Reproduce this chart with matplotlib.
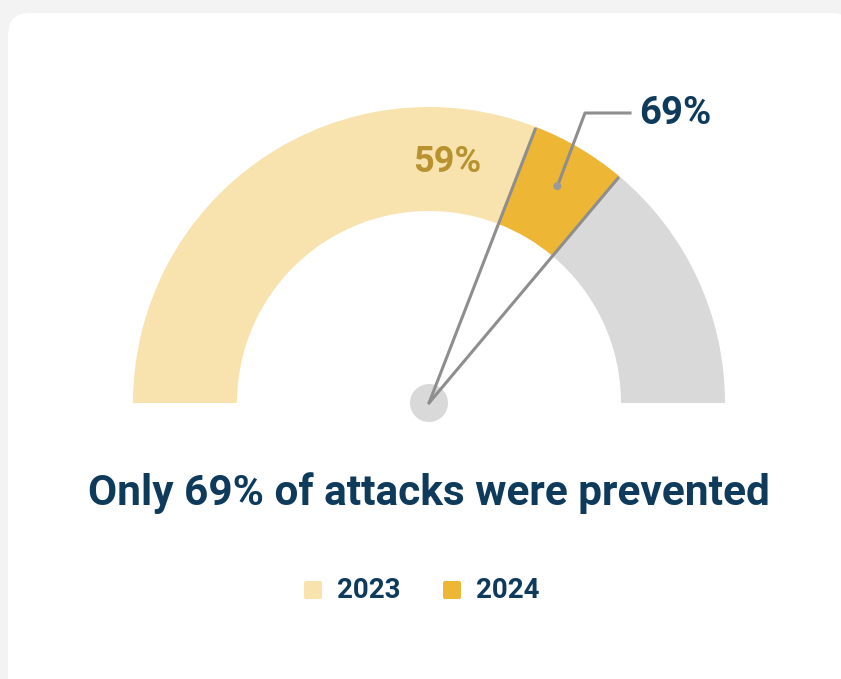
import matplotlib.pyplot as plt
import numpy as np
from matplotlib.patches import Wedge, Circle, FancyBboxPatch

# --- data ---
years = ['2023', '2024']
prevented = [59, 69]          # % of attacks prevented
gauge_max = 95.5              # scale end of the gauge arc
title = 'Only 69% of attacks were prevented'

# --- style ---
c_2023 = '#F8E3AE'
c_2024 = '#EDB634'
c_rest = '#D9D9D9'
navy = '#0E3A5C'
gold_txt = '#B8922E'
line_c = '#8E8E8E'
plt.rcParams['font.family'] = ['Roboto', 'DejaVu Sans']

W, H = 841, 679
cx, cy = 429, H - 403
r_out, ring = 296, 104


def ang(v):
    return 180 * (1 - v / gauge_max)


fig = plt.figure(figsize=(W / 100, H / 100), dpi=100, facecolor='#F3F3F3')
ax = fig.add_axes([0, 0, 1, 1])
ax.set_xlim(0, W)
ax.set_ylim(0, H)
ax.axis('off')

# card
ax.add_patch(FancyBboxPatch((8, -40), 845, H - 13 + 40, boxstyle='round,pad=0,rounding_size=22',
                            fc='white', ec='none', zorder=0))

# gauge segments
a59, a69 = ang(prevented[0]), ang(prevented[1])
ax.add_patch(Wedge((cx, cy), r_out, a59, 180, width=ring, fc=c_2023, ec='none', zorder=1))
ax.add_patch(Wedge((cx, cy), r_out, a69, a59, width=ring, fc=c_2024, ec='none', zorder=1))
ax.add_patch(Wedge((cx, cy), r_out, 0, a69, width=ring, fc=c_rest, ec='none', zorder=1))

# hub and needles
ax.add_patch(Circle((cx, cy), 19, fc='#D9D9D9', ec='none', zorder=2))
for a in (a59, a69):
    t = np.radians(a)
    ax.plot([cx, cx + (r_out - 2) * np.cos(t)], [cy, cy + (r_out - 2) * np.sin(t)],
            color=line_c, lw=2.2, solid_capstyle='round', zorder=3)

# label for 2023
ax.text(447, H - 162, f'{prevented[0]}%', color=gold_txt, fontsize=26, fontweight='bold',
        ha='center', va='center', zorder=4)

# callout for 2024
tm = np.radians((a59 + a69) / 2)
px, py = cx + 252 * np.cos(tm), cy + 252 * np.sin(tm)
ax.plot([px, 585, 630], [py, H - 113, H - 113], color=line_c, lw=2.2, zorder=4)
ax.add_patch(Circle((px, py), 4, fc='#9A9A9A', ec='none', zorder=5))
ax.text(639, H - 113, f'{prevented[1]}%', color=navy, fontsize=27.5, fontweight='bold',
        ha='left', va='center', zorder=4)

# title
ax.text(cx, H - 493, title, color=navy, fontsize=30.5, fontweight='bold', ha='center', va='center')

# legend
for x0, lab, col in [(304, years[0], c_2023), (443, years[1], c_2024)]:
    ax.add_patch(FancyBboxPatch((x0, H - 599), 18, 18, boxstyle='round,pad=0,rounding_size=2',
                                fc=col, ec='none'))
    ax.text(x0 + 33, H - 590, lab, color=navy, fontsize=20, fontweight='bold', ha='left', va='center')

fig.savefig('out.png', dpi=100, facecolor=fig.get_facecolor())
